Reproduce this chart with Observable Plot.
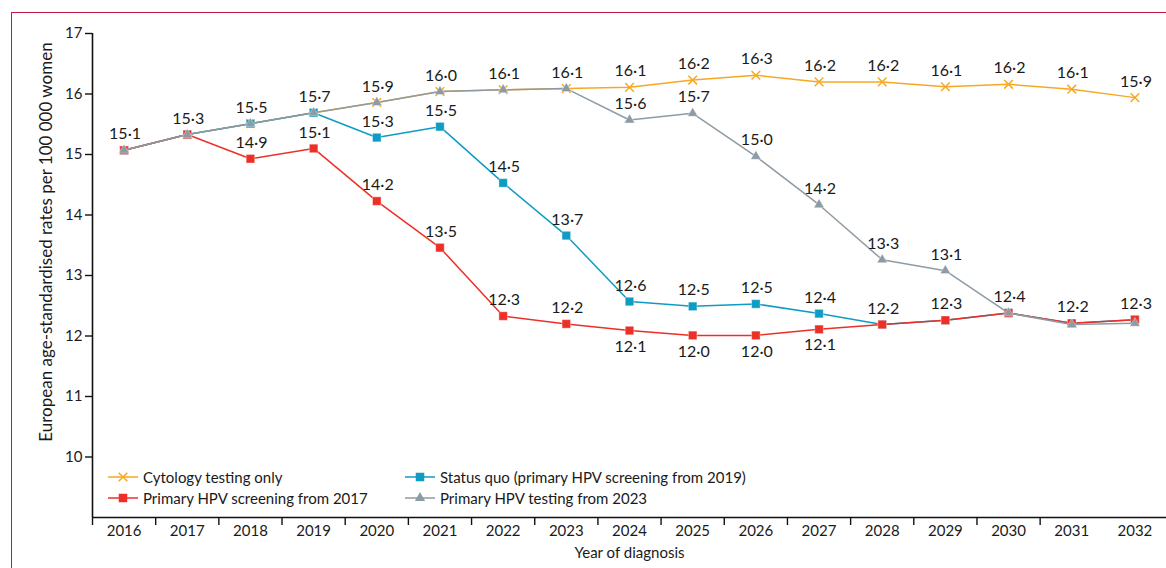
<!DOCTYPE html>
<html>
<head>
<meta charset="utf-8">
<script src="https://cdn.jsdelivr.net/npm/d3@7"></script>
<script src="https://cdn.jsdelivr.net/npm/@observablehq/plot@0.6"></script>
<style>
  html, body { margin: 0; padding: 0; background: #fff; overflow: hidden; }
  #wrap { position: relative; width: 1166px; height: 568px; font-family: Lato, "Open Sans", sans-serif; color: #1a1a1a; }
  #frame { position: absolute; left: 11px; top: 12px; width: 1200px; height: 600px; border-top: 1.5px solid #c4173f; border-left: 1.5px solid #c4173f; }
  #chart { position: absolute; left: 0; top: 0; }
  #ylabel { position: absolute; left: 45px; top: 242px; transform: translate(-50%, -50%) rotate(-90deg); white-space: nowrap; font-size: 17px; }
  .leg { position: absolute; display: flex; align-items: center; font-size: 15px; white-space: nowrap; }
  .leg svg { margin-right: 5px; }
</style>
</head>
<body>
<div id="wrap">
  <div id="frame"></div>
  <div id="chart"></div>
  <div id="ylabel">European age-standardised rates per 100 000 women</div>
  <div id="legend"></div>
</div>
<script>
// ---- Data ----
const years = [2016, 2017, 2018, 2019, 2020, 2021, 2022, 2023, 2024, 2025, 2026, 2027, 2028, 2029, 2030, 2031, 2032];
const seriesNames = [
  "Cytology testing only",
  "Status quo (primary HPV screening from 2019)",
  "Primary HPV screening from 2017",
  "Primary HPV testing from 2023"
];
const cytology  = [15.07, 15.33, 15.51, 15.69, 15.86, 16.04, 16.07, 16.09, 16.11, 16.23, 16.31, 16.20, 16.20, 16.12, 16.16, 16.08, 15.94];
const statusQuo = [15.07, 15.33, 15.51, 15.69, 15.28, 15.46, 14.53, 13.66, 12.57, 12.49, 12.53, 12.37, 12.19, 12.26, 12.38, 12.21, 12.27];
const hpv2017   = [15.07, 15.33, 14.93, 15.10, 14.23, 13.46, 12.33, 12.20, 12.09, 12.01, 12.01, 12.11, 12.19, 12.26, 12.38, 12.21, 12.27];
const hpv2023   = [15.07, 15.33, 15.51, 15.69, 15.86, 16.04, 16.07, 16.09, 15.57, 15.68, 14.97, 14.17, 13.26, 13.08, 12.38, 12.19, 12.21];
// years at which each series' value is labelled
const cytologyLabelYears  = [2016, 2017, 2018, 2019, 2020, 2021, 2022, 2023, 2024, 2025, 2026, 2027, 2028, 2029, 2030, 2031, 2032];
const statusQuoLabelYears = [2020, 2021, 2022, 2023, 2024, 2025, 2026, 2027];
const hpv2017LabelYearsAbove = [2018, 2019, 2020, 2021, 2022, 2023, 2028, 2029, 2030, 2031, 2032];
const hpv2017LabelYearsBelow = [2024, 2025, 2026, 2027];
const hpv2023LabelYears   = [2024, 2025, 2026, 2027, 2028, 2029];
const yTicks = [10, 11, 12, 13, 14, 15, 16, 17];

// ---- Build ----
const colors = {
  [seriesNames[0]]: "#f7a823",
  [seriesNames[1]]: "#0f9cc4",
  [seriesNames[2]]: "#ec3027",
  [seriesNames[3]]: "#8e9ba4"
};
const symbols = {
  [seriesNames[0]]: "times",
  [seriesNames[1]]: "square",
  [seriesNames[2]]: "square",
  [seriesNames[3]]: "triangle"
};
const radii = {
  [seriesNames[0]]: 4,
  [seriesNames[1]]: 4.8,
  [seriesNames[2]]: 4.8,
  [seriesNames[3]]: 3.8
};
const valuesBySeries = [cytology, statusQuo, hpv2017, hpv2023];
const rows = (i) => years.map((year, j) => ({year, value: valuesBySeries[i][j], series: seriesNames[i]}));
const fmt = v => v.toFixed(1).replace(".", "\u00B7");
const pick = (i, ys) => rows(i).filter(d => ys.includes(d.year));

const labelsAbove = [
  ...pick(0, cytologyLabelYears),
  ...pick(1, statusQuoLabelYears),
  ...pick(2, hpv2017LabelYearsAbove),
  ...pick(3, hpv2023LabelYears)
];
const labelsBelow = pick(2, hpv2017LabelYearsBelow);

const boundaries = years.slice(0, -1).map(y => y - 0.5);

const seriesMarks = [];
for (let i = 0; i < seriesNames.length; i++) {
  const name = seriesNames[i];
  const data = rows(i);
  seriesMarks.push(Plot.line(data, {x: "year", y: "value", stroke: colors[name], strokeWidth: 1.5}));
  if (symbols[name] === "times") {
    seriesMarks.push(Plot.dot(data, {x: "year", y: "value", symbol: "times", r: radii[name], stroke: colors[name], strokeWidth: 1.5}));
  } else {
    seriesMarks.push(Plot.dot(data, {x: "year", y: "value", symbol: symbols[name], r: radii[name], fill: colors[name], stroke: "#ffffff", strokeWidth: 0.6, strokeOpacity: 0.6}));
  }
}

const chart = Plot.plot({
  width: 1166,
  height: 568,
  marginLeft: 92,
  marginRight: 0,
  marginTop: 33,
  marginBottom: 51,
  style: {fontFamily: "Lato, 'Open Sans', sans-serif", fontSize: "15px", color: "#1a1a1a", background: "transparent"},
  x: {domain: [2015.5, 2032.5]},
  y: {domain: [9, 17]},
  marks: [
    Plot.axisX({ticks: years, tickSize: 0, tickPadding: 8, tickFormat: d => String(d), label: null, fontSize: 15}),
    Plot.axisX({ticks: boundaries, tickSize: 8, tickFormat: () => "", label: null, stroke: "#111", strokeWidth: 1.4}),
    Plot.axisY({ticks: yTicks, tickSize: 7, tickPadding: 3, label: null, fontSize: 15, stroke: "#111", strokeWidth: 1.4}),
    Plot.ruleY([9], {stroke: "#111", strokeWidth: 1.6}),
    Plot.ruleX([2015.5], {y1: 9, y2: 17, stroke: "#111", strokeWidth: 1.6}),
    ...seriesMarks,
    Plot.text(labelsAbove, {x: "year", y: "value", text: d => fmt(d.value), dy: -16, dx: 1, fontSize: 16, fill: "#1a1a1a"}),
    Plot.text(labelsBelow, {x: "year", y: "value", text: d => fmt(d.value), dy: 16, dx: 1, fontSize: 16, fill: "#1a1a1a"}),
    Plot.text(["Year of diagnosis"], {frameAnchor: "bottom", dy: 40, fontSize: 15, fill: "#1a1a1a"})
  ]
});
document.getElementById("chart").appendChild(chart);

// ---- Legend (HTML) ----
const legendItems = [
  {name: seriesNames[0], left: 108, top: 476.5},
  {name: seriesNames[2], left: 108, top: 497.5},
  {name: seriesNames[1], left: 405, top: 476.5},
  {name: seriesNames[3], left: 405, top: 497.5}
];
const legend = document.getElementById("legend");
for (const it of legendItems) {
  const div = document.createElement("div");
  div.className = "leg";
  div.style.left = it.left + "px";
  div.style.top = (it.top - 10) + "px";
  div.style.height = "20px";
  const c = colors[it.name];
  const sym = symbols[it.name];
  const r = radii[it.name];
  const typeMap = {times: d3.symbolTimes, square: d3.symbolSquare, triangle: d3.symbolTriangle};
  const path = d3.symbol(typeMap[sym], r * r * Math.PI)();
  const symAttr = sym === "times" ? `fill="none" stroke="${c}" stroke-width="1.5"` : `fill="${c}"`;
  div.innerHTML = `<svg width="30" height="14" viewBox="0 0 30 14"><line x1="0" x2="30" y1="7" y2="7" stroke="${c}" stroke-width="1.5"/><path transform="translate(15,7)" d="${path}" ${symAttr}/></svg><span>${it.name}</span>`;
  legend.appendChild(div);
}
</script>
</body>
</html>
